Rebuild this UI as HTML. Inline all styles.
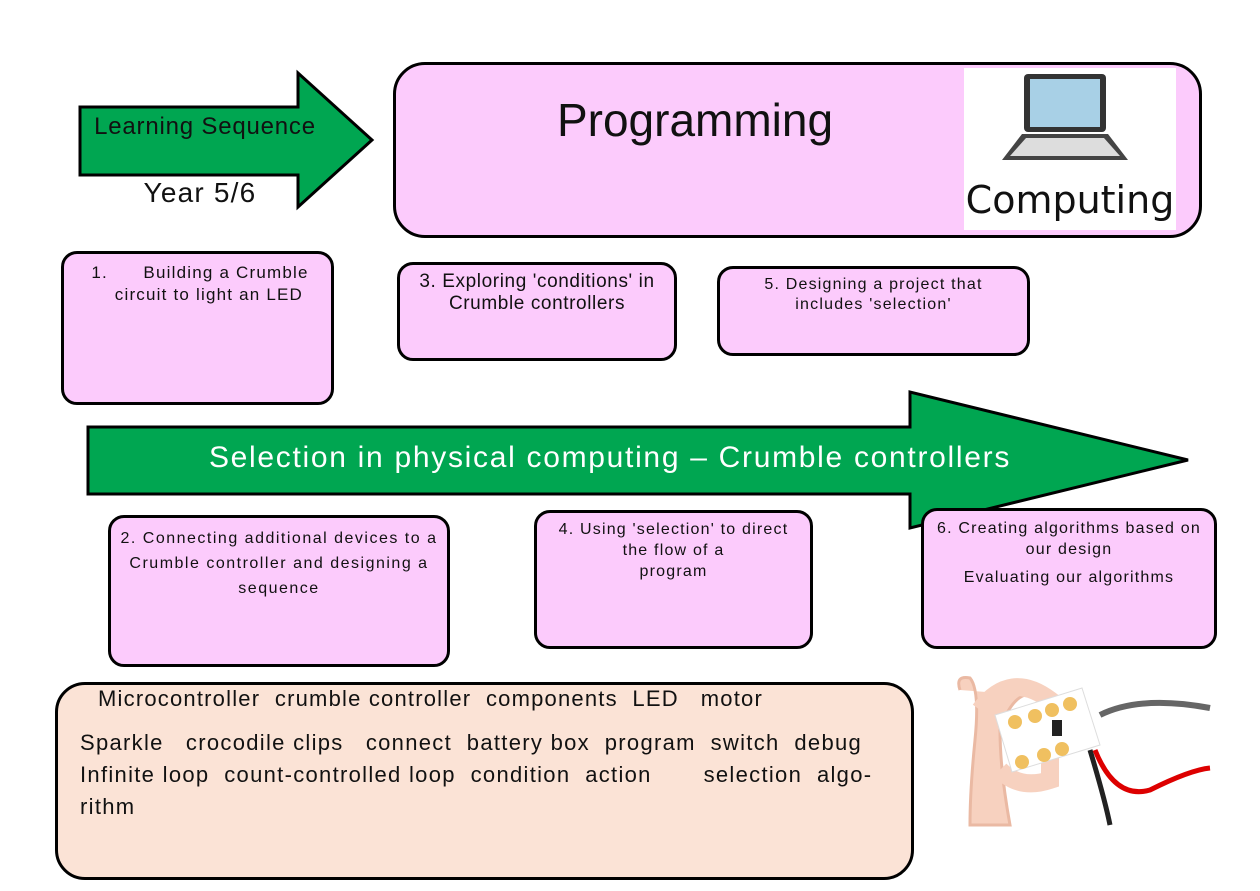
<!DOCTYPE html>
<html><head><meta charset="utf-8"><style>
body{margin:0;width:1260px;height:891px;background:#fff;position:relative;overflow:hidden;font-family:"Liberation Sans",sans-serif;color:#111}
.b{position:absolute;box-sizing:border-box;border:3px solid #000;background:#fccbfc;border-radius:16px}
.t{position:absolute;font-size:17px;font-weight:300;text-align:center;line-height:22px;letter-spacing:1.2px}
</style></head><body>
<svg width="1260" height="891" style="position:absolute;left:0;top:0">
<polygon points="80,107 298,107 298,73 372,140 298,207 298,175 80,175" fill="#00a651" stroke="#000" stroke-width="3"/>
<polygon points="88,427 910,427 910,392 1188,460 910,528 910,494 88,494" fill="#00a651" stroke="#000" stroke-width="3"/>
</svg>
<div class="t" style="left:80px;top:116px;width:250px;font-size:24px;letter-spacing:0.8px">Learning Sequence</div>
<div class="t" style="left:120px;top:182px;width:160px;font-size:28px">Year 5/6</div>
<div class="b" style="left:393px;top:62px;width:809px;height:176px;border-radius:32px"></div>
<div class="t" style="left:520px;top:95px;width:350px;font-size:46px;line-height:50px;letter-spacing:0">Programming</div>
<div style="position:absolute;left:964px;top:68px;width:212px;height:162px;background:#fff"></div>
<svg width="212" height="162" style="position:absolute;left:964px;top:68px">
<rect x="60" y="6" width="82" height="58" rx="4" fill="#333"/>
<rect x="66" y="11" width="70" height="48" fill="#a8d0e6"/>
<polygon points="58,66 144,66 164,92 38,92" fill="#444"/>
<polygon points="62,70 140,70 156,88 46,88" fill="#ddd"/>
</svg>
<div style="position:absolute;left:964px;top:178px;width:212px;text-align:center;font-size:38px;font-family:'DejaVu Sans',sans-serif">Computing</div>
<div class="b" style="left:61px;top:251px;width:273px;height:154px"></div>
<div class="t" style="left:75px;top:262px;width:250px">1.&nbsp;&nbsp;&nbsp;&nbsp;&nbsp; Building a Crumble<br>&nbsp;&nbsp;&nbsp;circuit to light an LED</div>
<div class="b" style="left:397px;top:262px;width:280px;height:99px"></div>
<div class="t" style="left:400px;top:271px;width:274px;font-size:19px;letter-spacing:0.6px">3. Exploring 'conditions' in<br>Crumble controllers</div>
<div class="b" style="left:717px;top:266px;width:313px;height:90px"></div>
<div class="t" style="left:720px;top:275px;width:307px;font-size:16px;line-height:20px">5. Designing a project that<br>includes 'selection'</div>
<div class="t" style="left:190px;top:440px;width:840px;font-size:30px;color:#fff;line-height:36px;letter-spacing:1.7px">Selection in physical computing – Crumble controllers</div>
<div class="b" style="left:108px;top:515px;width:342px;height:152px"></div>
<div class="t" style="left:111px;top:526px;width:336px;font-size:16px;line-height:25px;letter-spacing:1.5px">2. Connecting additional devices to a<br>Crumble controller and designing a<br>sequence</div>
<div class="b" style="left:534px;top:510px;width:279px;height:139px"></div>
<div class="t" style="left:537px;top:519px;width:273px;font-size:16px;line-height:21px">4. Using 'selection' to direct<br>the flow of a<br>program</div>
<div class="b" style="left:921px;top:508px;width:296px;height:141px"></div>
<div class="t" style="left:924px;top:518px;width:290px;font-size:16px;line-height:21px">6. Creating algorithms based on<br>our design<br><span style="line-height:36px">Evaluating our algorithms</span></div>
<div class="b" style="left:55px;top:682px;width:859px;height:198px;background:#fbe3d6;border-radius:30px"></div>
<div class="t" style="left:98px;top:686px;text-align:left;font-size:22px;line-height:26px;white-space:pre">Microcontroller  crumble controller  components  LED   motor</div>
<div class="t" style="left:80px;top:727px;text-align:left;font-size:22px;line-height:32px;white-space:pre;letter-spacing:1.3px">Sparkle   crocodile clips   connect  battery box  program  switch  debug
Infinite loop  count-controlled loop  condition  action       selection  algo-
rithm</div>
<svg width="280" height="170" style="position:absolute;left:940px;top:660px">
<path d="M20,30 Q15,15 30,18 Q40,30 35,80 Q30,130 30,165 L70,165 Q60,110 60,70 Q70,40 85,35" fill="#f7d1bf" stroke="#eab9a3" stroke-width="3"/>
<path d="M40,50 Q70,10 110,40 L110,120 Q80,130 60,110" fill="none" stroke="#f7d1bf" stroke-width="18"/>
<polygon points="55,55 142,28 160,85 72,112" fill="#fff" stroke="#ddd"/>
<circle cx="75" cy="62" r="7" fill="#f0c060"/><circle cx="95" cy="56" r="7" fill="#f0c060"/><circle cx="112" cy="50" r="7" fill="#f0c060"/><circle cx="130" cy="44" r="7" fill="#f0c060"/>
<circle cx="82" cy="102" r="7" fill="#f0c060"/><circle cx="104" cy="95" r="7" fill="#f0c060"/><circle cx="122" cy="89" r="7" fill="#f0c060"/>
<rect x="112" y="60" width="10" height="16" fill="#222"/>
<path d="M160,55 Q200,35 270,48" stroke="#666" stroke-width="6" fill="none"/>
<path d="M150,90 Q165,140 170,165" stroke="#222" stroke-width="5" fill="none"/>
<path d="M155,90 Q175,140 210,130 Q250,110 270,108" stroke="#d00" stroke-width="5" fill="none"/>
</svg>
</body></html>
